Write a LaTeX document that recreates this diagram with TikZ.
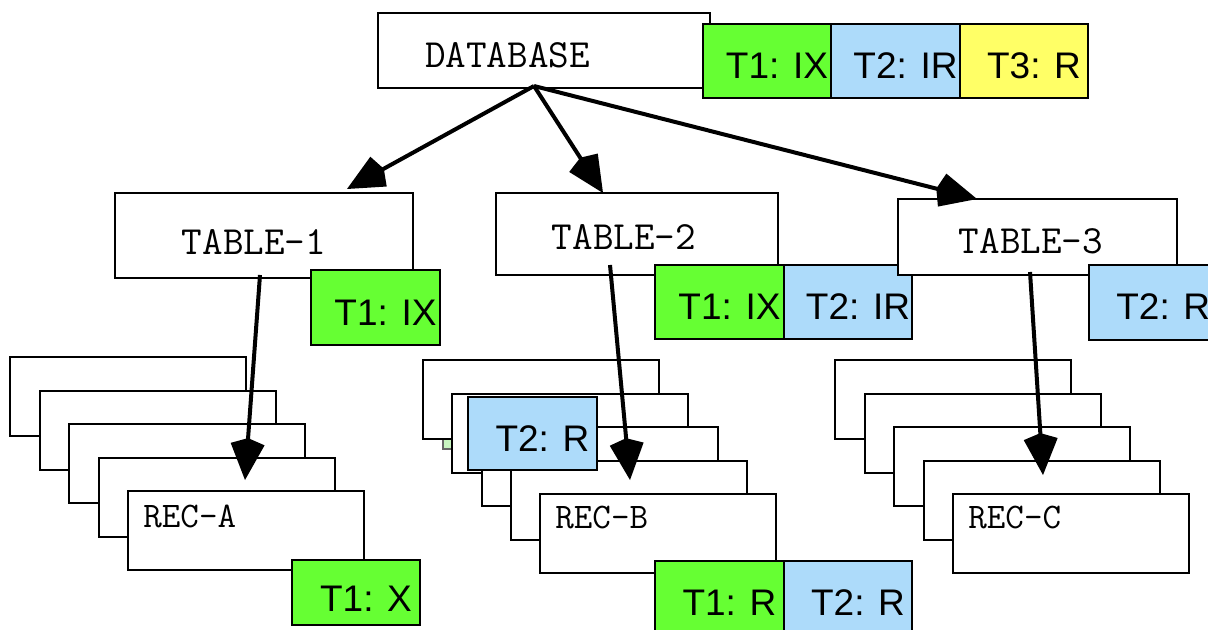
\documentclass[tikz,border=0pt]{standalone}
\usepackage{fontspec}
\setmainfont{Liberation Sans}
\usetikzlibrary{arrows.meta}
\usetikzlibrary{positioning}

\definecolor{lockgreen}{HTML}{66FF33}
\definecolor{lockblue}{HTML}{ADDBFA}
\definecolor{lockyellow}{HTML}{FFFF66}
\definecolor{palegreen}{HTML}{C8F5C0}

\newcommand{\padright}[1]{\rule{#1}{0pt}}

\tikzset{
	objbox/.style={draw, line width=1pt, fill=white, inner sep=0pt, outer sep=0pt, font=\ttfamily\fontsize{20}{20}\selectfont, text height=17pt, text depth=0pt},
	recbox/.style={draw, line width=1pt, fill=white, anchor=north west, outer sep=0pt, minimum width=118pt, minimum height=39.5pt},
	rectext/.style={anchor=base west, inner sep=0pt, font=\ttfamily\fontsize{18}{18}\selectfont},
	lock/.style={draw, line width=1pt, inner sep=0pt, outer sep=0pt, minimum width=64.25pt, minimum height=37pt, font=\fontsize{18.5}{18.5}\selectfont, text height=17.5pt, text depth=0pt, execute at begin node=\hspace{10pt}},
	link/.style={-{Kite[length=21pt,width=17pt,inset=3pt]}, line width=2pt},
}

\begin{document}
\begin{tikzpicture}[x=0.5pt,y=-0.5pt]
			\useasboundingbox (0,0) rectangle (1208,630);
			\foreach \i in {0,...,4}
				\node[recbox] (a\i) at ({10+29.5*\i},{357+33.5*\i}) {};
			\node[rectext] (atxt) at ([xshift=7.5pt,yshift=-18pt]a4.north west) {REC-A};
			\draw[fill=palegreen, draw=black!60, line width=0.6pt] (443,420) rectangle (500,449);
			\foreach \i in {0,...,4}
				\node[recbox] (b\i) at ({423+29.25*\i},{360+33.5*\i}) {};
			\node[rectext] (btxt) at ([xshift=7.5pt,yshift=-17pt]b4.north west) {REC-B};
			\foreach \i in {0,...,4}
				\node[recbox] (c\i) at ({835+29.5*\i},{360+33.5*\i}) {};
			\node[rectext] (ctxt) at ([xshift=7.5pt,yshift=-17pt]c4.north west) {REC-C};
			\node[lock, fill=lockblue, minimum height=36.5pt] (bl0) at (532.5,433.5) {T2: R};
			\node[lock, fill=lockgreen, minimum height=32.5pt, text height=19pt] (al1) at (356,592.5) {T1: X};
			\node[lock, fill=lockgreen] (bl1) at (719.5,598) {T1: R};
			\node[lock, fill=lockblue, right=0pt of bl1] (bl2) {T2: R};

			\node[objbox, minimum width=166pt, minimum height=37.5pt] (db) at (544,50.5) {DATABASE\padright{36.5pt}};
			\node[lock, fill=lockgreen] (dbl1) at (767,61) {T1: IX};
			\node[lock, fill=lockblue, right=0pt of dbl1] (dbl2) {T2: IR};
			\node[lock, fill=lockyellow, right=0pt of dbl2] (dbl3) {T3: R};

			\node[objbox, minimum width=149pt, minimum height=42.5pt, text height=19.5pt] (tab1) at (264,235.5) {TABLE-1\padright{10pt}};
			\node[lock, fill=lockgreen] (tl1) at (375.5,307.5) {T1: IX};
			\node[objbox, minimum width=141pt, minimum height=41pt, text height=16pt] (tab2) at (637,234) {TABLE-2\padright{13pt}};
			\node[lock, fill=lockgreen] (tl2) at (719.5,302) {T1: IX};
			\node[lock, fill=lockblue, right=0pt of tl2] (tl3) {T2: IR};
			\node[objbox, minimum width=139.5pt, minimum height=38pt] (tab3) at (1037.5,237) {TABLE-3\padright{6.5pt}};
			\node[lock, fill=lockblue] (tl4) at (1153.25,302.5) {T2: R};

			\draw[link] ([xshift=-5pt,yshift=1pt]db.south) -- ([xshift=41.5pt,yshift=2pt]tab1.north);
			\draw[link] ([xshift=-5pt,yshift=1pt]db.south) -- ([xshift=-17pt]tab2.north);
			\draw[link] ([xshift=-5pt,yshift=1pt]db.south) -- ([xshift=-30.25pt]tab3.north);
			\draw[link] ([xshift=-2pt,yshift=1.5pt]tab1.south) -- ([xshift=-0.5pt,yshift=5.5pt]a4.north);
			\draw[link] ([xshift=-13.5pt,yshift=5pt]tab2.south) -- ([xshift=-14pt,yshift=7pt]b4.north);
			\draw[link] ([xshift=-3.75pt,yshift=1.5pt]tab3.south) -- ([xshift=-14pt,yshift=9.5pt]c4.north);
		\end{tikzpicture}
\end{document}
